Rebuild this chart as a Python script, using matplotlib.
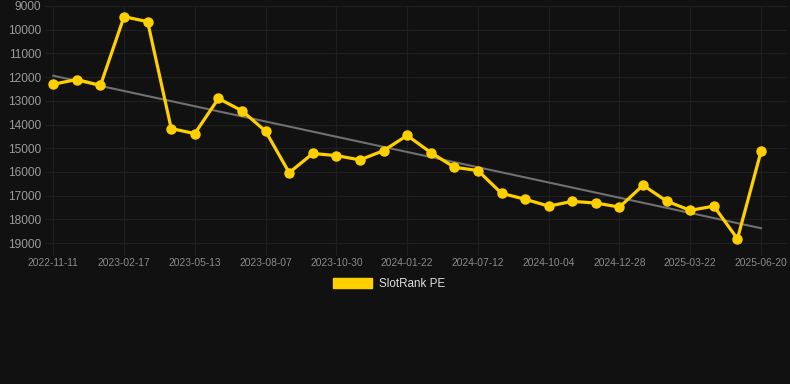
import matplotlib.pyplot as plt
import matplotlib.patches as mpatches
import numpy as np

plt.rcParams['font.family'] = ['Liberation Sans', 'DejaVu Sans']

# date di ogni punto (stimate tra le etichette visibili)
dates = ["2022-11-11", "2022-12-14", "2023-01-16", "2023-02-17", "2023-03-17", "2023-04-15",
         "2023-05-13", "2023-06-11", "2023-07-09", "2023-08-07", "2023-09-04", "2023-10-02",
         "2023-10-30", "2023-11-27", "2023-12-25", "2024-01-22", "2024-03-19", "2024-05-15",
         "2024-07-12", "2024-08-09", "2024-09-06", "2024-10-04", "2024-11-01", "2024-11-29",
         "2024-12-28", "2025-01-24", "2025-02-22", "2025-03-22", "2025-04-21", "2025-05-21",
         "2025-06-20"]

rank = [12300, 12100, 12350, 9450, 9660, 14170, 14380, 12900, 13420, 14280,
        16030, 15220, 15310, 15490, 15100, 14460, 15180, 15800, 15940, 16900,
        17150, 17440, 17240, 17310, 17480, 16560, 17230, 17620, 17440, 18820,
        15130]

yticks = list(range(9000, 20000, 1000))

bg = "#111111"
gold = "#FFD000"

fig = plt.figure(figsize=(7.9, 3.84), dpi=100, facecolor=bg)
ax = fig.add_axes([45/790, 1-245/384, 742/790, 239/384], facecolor=bg)

x = np.arange(len(rank))

# linea di tendenza (regressione lineare)
coef = np.polyfit(x, rank, 1)
ax.plot(x, np.polyval(coef, x), color="#707070", lw=1.5, zorder=2)

ax.plot(x, rank, color=gold, lw=2.3, marker="o", markersize=6.5, zorder=3)

ax.set_ylim(19080, 9000)
ax.set_xlim(-0.35, 31.1)
ax.set_yticks(yticks)
ax.set_xticks(x[::3])
ax.set_xticklabels(dates[::3])

ax.grid(True, color="#1f1f1f", lw=0.9)
ax.set_axisbelow(True)
for s in ax.spines.values():
    s.set_visible(False)
ax.tick_params(axis="y", length=0, colors="#9a9a9a", labelsize=8.6, pad=3)
ax.tick_params(axis="x", length=7, width=0.9, color="#1f1f1f", colors="#8a8a8a",
               labelsize=7.4, pad=2)

handle = mpatches.Patch(color=gold, label="SlotRank PE")
leg = fig.legend(handles=[handle], loc="center", bbox_to_anchor=(389/790, 1-284/384),
                 frameon=False, fontsize=8.4, handlelength=3.4, handleheight=0.9,
                 handletextpad=0.6)
for t in leg.get_texts():
    t.set_color("#dddddd")

fig.savefig("out.png", dpi=100, facecolor=bg)
